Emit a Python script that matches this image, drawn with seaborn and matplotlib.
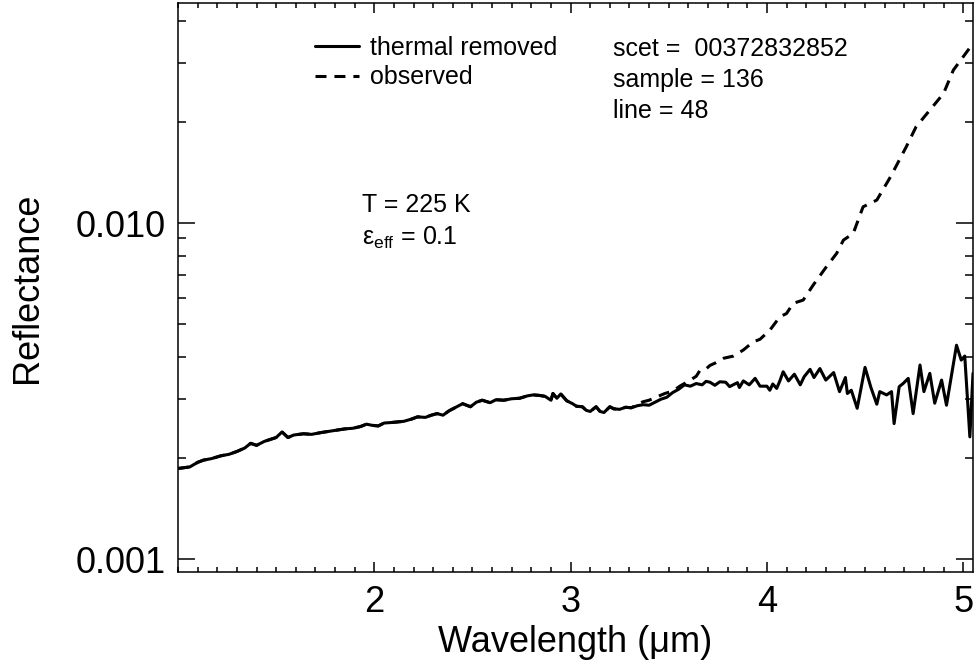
import numpy as np
import pandas as pd
import matplotlib
matplotlib.use("Agg")
import matplotlib.pyplot as plt
from matplotlib import ticker
import seaborn as sns

# ---------------- data ----------------
wl_thermal = [1.00, 1.03, 1.06, 1.10, 1.13, 1.17, 1.22, 1.26, 1.30, 1.34, 1.37, 1.40, 1.44, 1.47,
              1.50, 1.53, 1.56, 1.59, 1.64, 1.68, 1.73, 1.77, 1.81, 1.85, 1.89, 1.93, 1.96, 1.99,
              2.02, 2.05, 2.09, 2.12, 2.15, 2.19, 2.22, 2.26, 2.29, 2.32, 2.35, 2.38, 2.42, 2.45,
              2.49, 2.52, 2.55, 2.59, 2.62, 2.66, 2.70, 2.74, 2.78, 2.81, 2.84, 2.87, 2.90, 2.91,
              2.93, 2.95, 2.98, 3.01, 3.03, 3.06, 3.08, 3.10, 3.13, 3.15, 3.17, 3.20, 3.22, 3.25,
              3.28, 3.31, 3.34, 3.37, 3.40, 3.43, 3.46, 3.49, 3.52, 3.55, 3.58, 3.61, 3.64, 3.67,
              3.69, 3.71, 3.735, 3.76, 3.79, 3.81, 3.85, 3.86, 3.88, 3.91, 3.94, 3.965, 4.00, 4.015,
              4.03, 4.05, 4.066, 4.083, 4.11, 4.14, 4.17, 4.19, 4.22, 4.24, 4.27, 4.30, 4.34, 4.37,
              4.40, 4.41, 4.43, 4.46, 4.50, 4.53, 4.56, 4.575, 4.61, 4.635, 4.648, 4.674, 4.694,
              4.72, 4.745, 4.78, 4.80, 4.83, 4.855, 4.89, 4.915, 4.966, 4.99, 5.008, 5.034, 5.05]
refl_thermal = [0.00186, 0.00187, 0.00188, 0.00194, 0.00197, 0.00199, 0.00203, 0.00205, 0.00209,
                0.00214, 0.00221, 0.00218, 0.00224, 0.00227, 0.00230, 0.00239, 0.00230, 0.00234,
                0.00236, 0.00235, 0.00238, 0.00240, 0.00242, 0.00244, 0.00245, 0.00248, 0.00252,
                0.00250, 0.00249, 0.00254, 0.00255, 0.00256, 0.00257, 0.00261, 0.00265, 0.00264,
                0.00268, 0.00271, 0.00268, 0.00276, 0.00284, 0.00290, 0.00284, 0.00293, 0.00297,
                0.00292, 0.00298, 0.00297, 0.00300, 0.00301, 0.00306, 0.00308, 0.00307, 0.00305,
                0.00297, 0.00311, 0.00301, 0.00310, 0.00296, 0.00290, 0.00285, 0.00284, 0.00277,
                0.00275, 0.00284, 0.00275, 0.00273, 0.00284, 0.00280, 0.00279, 0.00283, 0.00282,
                0.00286, 0.00288, 0.00287, 0.00293, 0.00299, 0.00303, 0.00313, 0.00320, 0.00330,
                0.00327, 0.00333, 0.00330, 0.00338, 0.00336, 0.00329, 0.00337, 0.00336, 0.00326,
                0.00335, 0.00324, 0.00339, 0.00330, 0.00345, 0.00327, 0.00327, 0.00318, 0.00332,
                0.00322, 0.00339, 0.00361, 0.00339, 0.00355, 0.00330, 0.00349, 0.00367, 0.00347,
                0.00369, 0.00341, 0.00359, 0.00315, 0.00347, 0.00311, 0.00318, 0.00281, 0.00372,
                0.00324, 0.00289, 0.00315, 0.00308, 0.00315, 0.00253, 0.00326, 0.00333, 0.00345,
                0.00271, 0.00378, 0.00315, 0.00357, 0.00291, 0.00341, 0.00287, 0.00433, 0.00391,
                0.00402, 0.00231, 0.00357]

# observed spectrum: identical to the thermal-removed one up to 3.31 um, then:
wl_observed_tail = [3.34, 3.37, 3.40, 3.44, 3.48, 3.52, 3.56, 3.60, 3.64, 3.66, 3.69, 3.71, 3.74,
                    3.78, 3.83, 3.88, 3.93, 3.965, 4.015, 4.066, 4.10, 4.134, 4.185, 4.236, 4.30,
                    4.355, 4.39, 4.44, 4.49, 4.56, 4.63, 4.71, 4.76, 4.83, 4.90, 4.95, 5.00, 5.05]
refl_observed_tail = [0.00289, 0.00294, 0.00297, 0.00304, 0.00311, 0.00316, 0.00328, 0.00338,
                      0.00350, 0.00365, 0.00368, 0.00377, 0.00384, 0.00396, 0.00402, 0.00419,
                      0.00443, 0.00451, 0.00480, 0.00526, 0.00538, 0.00577, 0.00590, 0.00654,
                      0.00737, 0.00812, 0.00890, 0.00932, 0.01118, 0.01171, 0.01374, 0.01687,
                      0.01935, 0.02169, 0.02432, 0.02854, 0.03126, 0.03426]
split_wl = 3.31

x_ticks = [2, 3, 4, 5]
x_tick_labels = ["2", "3", "4", "5"]
y_ticks = [0.001, 0.01]
y_tick_labels = ["0.001", "0.010"]

info_lines = ["scet =  00372832852", "sample = 136", "line = 48"]
params_lines = ["T = 225 K", "\u03b5$_{\\mathrm{eff}}$ = 0.1"]

# ---------------- build tables ----------------
thermal = pd.DataFrame({"wl": wl_thermal, "refl": refl_thermal})
head = thermal[thermal["wl"] <= split_wl]
observed = pd.concat([head, pd.DataFrame({"wl": wl_observed_tail, "refl": refl_observed_tail})],
                     ignore_index=True)

# ---------------- style ----------------
sns.set_style("ticks")
plt.rcParams["font.family"] = ["Liberation Sans", "DejaVu Sans"]
plt.rcParams["mathtext.fontset"] = "custom"
plt.rcParams["mathtext.rm"] = "Liberation Sans"
plt.rcParams["mathtext.it"] = "Liberation Sans:italic"
plt.rcParams["text.color"] = "black"
plt.rcParams["axes.labelcolor"] = "black"
plt.rcParams["xtick.color"] = "black"
plt.rcParams["ytick.color"] = "black"

fig = plt.figure(figsize=(9.75, 6.72), dpi=100)
ax = fig.add_axes([178 / 975, 1 - 572 / 672, 795 / 975, 569 / 672])

dash = (0, (3.6, 2.6))
sns.lineplot(data=observed, x="wl", y="refl", ax=ax, color="black", lw=2.2,
             linestyle=dash, sort=False, estimator=None, label="observed")
sns.lineplot(data=thermal, x="wl", y="refl", ax=ax, color="black", lw=2.2,
             sort=False, estimator=None, label="thermal removed")

ax.set_yscale("log")
ax.set_xlim(1.0, 5.05)
ax.set_ylim(0.000915, 0.0452)

ax.xaxis.set_major_locator(ticker.FixedLocator(x_ticks))
ax.xaxis.set_major_formatter(ticker.FixedFormatter(x_tick_labels))
ax.xaxis.set_minor_locator(ticker.MultipleLocator(0.1))
ax.yaxis.set_major_locator(ticker.FixedLocator(y_ticks))
ax.yaxis.set_major_formatter(ticker.FixedFormatter(y_tick_labels))
ax.yaxis.set_minor_locator(ticker.LogLocator(base=10, subs=np.arange(2, 10)))
ax.yaxis.set_minor_formatter(ticker.NullFormatter())

ax.tick_params(which="both", direction="in", top=True, right=True, width=1.1,
               colors="black", labelcolor="black", labelsize=26, pad=9)
ax.tick_params(axis="x", which="major", length=7.5)
ax.tick_params(axis="x", which="minor", length=3.8)
ax.tick_params(axis="y", which="major", length=12)
ax.tick_params(axis="y", which="minor", length=6)
for sp in ax.spines.values():
    sp.set_linewidth(1.1)
    sp.set_color("black")

ax.set_xlabel("Wavelength (\u03bcm)", fontsize=26, labelpad=4, color="black")
ax.set_ylabel("Reflectance", fontsize=26, labelpad=22, color="black")

handles, labels = ax.get_legend_handles_labels()
order = [labels.index("thermal removed"), labels.index("observed")]
leg = ax.legend([handles[i] for i in order], [labels[i] for i in order],
                loc="upper left", bbox_to_anchor=(315 / 975, 1 - 36 / 672),
                bbox_transform=fig.transFigure, frameon=False, fontsize=18,
                handlelength=1.75, handletextpad=0.45, labelspacing=0.22,
                borderpad=0, borderaxespad=0)
for t in leg.get_texts():
    t.set_color("black")

for i, txt in enumerate(info_lines):
    fig.text(613 / 975, 1 - (49 + 31 * i) / 672, txt, fontsize=18, va="center", ha="left",
             color="black")
for i, txt in enumerate(params_lines):
    fig.text(362 / 975, 1 - (205 + 33 * i) / 672, txt, fontsize=18, va="center", ha="left",
             color="black")

fig.savefig("out.png", dpi=100)
